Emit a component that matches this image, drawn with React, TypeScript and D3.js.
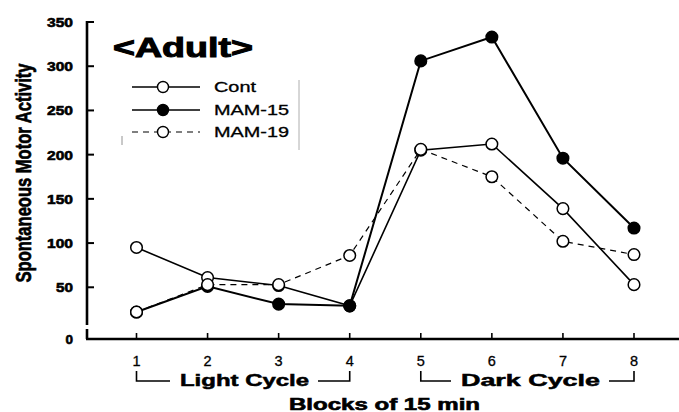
import React from "react";
import * as d3 from "d3";

// Spontaneous motor activity per 15-min block
const blocks = [1, 2, 3, 4, 5, 6, 7, 8];
const cont = [95, 61, 52, 29, 205, 212, 139, 53];
const mam15 = [22, 51, 31, 29, 306, 333, 196, 117];
const mam19 = [22, 53, 53, 86, 206, 175, 102, 87];
const yTicks = [50, 100, 150, 200, 250, 300, 350];
const seriesNames = ["Cont", "MAM-15", "MAM-19"];

const W = 679;
const H = 412;
const axisX = 87;
const axisY = 339;

export default function App() {
  const x = d3.scaleLinear().domain([1, 8]).range([136.5, 634]);
  const y = d3.scaleLinear().domain([0, 350]).range([331.5, 22]);
  const line = d3
    .line<number>()
    .x((_, i) => x(blocks[i]))
    .y((d) => y(d));

  const font = "'Liberation Sans', Arial, Helvetica, sans-serif";

  const series = [
    { name: seriesNames[0], values: cont, filled: false, dash: undefined, width: 1.6, legW: 42 },
    { name: seriesNames[1], values: mam15, filled: true, dash: undefined, width: 2, legW: 75 },
    { name: seriesNames[2], values: mam19, filled: false, dash: "6 5", width: 1.2, legW: 75 },
  ];

  const legendY = [87, 110, 132];
  const heavy = { stroke: "#000", strokeWidth: 0.6 };

  return (
    <svg
      width={W}
      height={H}
      style={{ position: "absolute", left: 0, top: 0, background: "#fff" }}
      fontFamily={font}
    >
      {/* title */}
      <text
        x={113}
        y={57}
        fontSize={27}
        fontWeight="bold"
        fill="#000"
        stroke="#000"
        strokeWidth={1}
        textLength={140}
        lengthAdjust="spacingAndGlyphs"
      >
        {"<Adult>"}
      </text>

      {/* y axis with break near zero */}
      <line x1={axisX} x2={axisX} y1={21} y2={325} stroke="#000" strokeWidth={2.6} />
      <line x1={axisX} x2={axisX} y1={329} y2={axisY} stroke="#000" strokeWidth={2.6} />
      {yTicks.map((t) => (
        <g key={t}>
          <line x1={axisX} x2={axisX + 7} y1={y(t)} y2={y(t)} stroke="#000" strokeWidth={2} />
          <text
            x={73}
            y={y(t)}
            dy="0.36em"
            textAnchor="end"
            fontSize={13.5}
            fontWeight="bold"
            {...heavy}
            textLength={t >= 100 ? 26 : 17}
            lengthAdjust="spacingAndGlyphs"
          >
            {t}
          </text>
        </g>
      ))}
      <text x={73} y={axisY} dy="0.36em" textAnchor="end" fontSize={13.5} fontWeight="bold" {...heavy}>
        0
      </text>
      {/* condensed, tall axis title */}
      <text
        transform={`translate(31,173) rotate(-90) scale(1,1.35)`}
        textAnchor="middle"
        fontSize={16}
        fontWeight="bold"
        stroke="#000"
        strokeWidth={0.5}
        textLength={219}
        lengthAdjust="spacingAndGlyphs"
      >
        Spontaneous Motor Activity
      </text>

      {/* x axis */}
      <line x1={axisX - 1} x2={W} y1={axisY} y2={axisY} stroke="#000" strokeWidth={2.6} />
      {blocks.map((b) => (
        <g key={b}>
          <line x1={x(b)} x2={x(b)} y1={axisY} y2={axisY - 6} stroke="#000" strokeWidth={1.6} />
          <text x={x(b)} y={366} textAnchor="middle" fontSize={14.5} stroke="#000" strokeWidth={0.3}>
            {b}
          </text>
        </g>
      ))}

      {/* cycle brackets */}
      {[
        { from: 1, to: 4, label: "Light Cycle", tx: 180, tw: 129 },
        { from: 5, to: 8, label: "Dark Cycle", tx: 461, tw: 139 },
      ].map((c) => {
        const x0 = x(c.from);
        const x1 = x(c.to);
        return (
          <g key={c.label} stroke="#000" strokeWidth={1.6} fill="none">
            <path d={`M${x0},371 V381 H${c.tx - 10}`} />
            <path d={`M${x1},371 V381 H${c.tx + c.tw + 9}`} />
            <text
              x={c.tx}
              y={386}
              fontSize={16}
              fontWeight="bold"
              strokeWidth={0.5}
              fill="#000"
              textLength={c.tw}
              lengthAdjust="spacingAndGlyphs"
            >
              {c.label}
            </text>
          </g>
        );
      })}

      <text
        x={289}
        y={410}
        fontSize={16}
        fontWeight="bold"
        {...heavy}
        textLength={191}
        lengthAdjust="spacingAndGlyphs"
      >
        Blocks of 15 min
      </text>

      {/* series lines */}
      {series.map((s) => (
        <path
          key={s.name}
          d={line(s.values) || ""}
          fill="none"
          stroke="#000"
          strokeWidth={s.width}
          strokeDasharray={s.dash}
        />
      ))}
      {/* markers: Cont, then MAM-15, then MAM-19 on top */}
      {series.map((s) => (
        <g key={s.name + "-pts"}>
          {s.values.map((v, i) => (
            <circle
              key={i}
              cx={x(blocks[i])}
              cy={y(v)}
              r={5.8}
              fill={s.filled ? "#000" : "#fff"}
              stroke="#000"
              strokeWidth={1.5}
            />
          ))}
        </g>
      ))}

      {/* legend */}
      {series.map((s, i) => (
        <g key={s.name + "-leg"}>
          <line
            x1={132}
            x2={200}
            y1={legendY[i]}
            y2={legendY[i]}
            stroke="#000"
            strokeWidth={s.dash ? 1.2 : 1.4}
            strokeDasharray={s.dash}
          />
          <circle
            cx={163}
            cy={legendY[i]}
            r={5.5}
            fill={s.filled ? "#000" : "#fff"}
            stroke="#000"
            strokeWidth={1.4}
          />
          <text
            x={214}
            y={legendY[i]}
            dy="0.36em"
            fontSize={14}
            stroke="#000"
            strokeWidth={0.3}
            textLength={s.legW}
            lengthAdjust="spacingAndGlyphs"
          >
            {s.name}
          </text>
        </g>
      ))}
      <line x1={299} x2={299} y1={80} y2={150} stroke="#999" strokeWidth={0.8} />
      <line x1={122} x2={122} y1={136} y2={145} stroke="#777" strokeWidth={0.8} />
    </svg>
  );
}
